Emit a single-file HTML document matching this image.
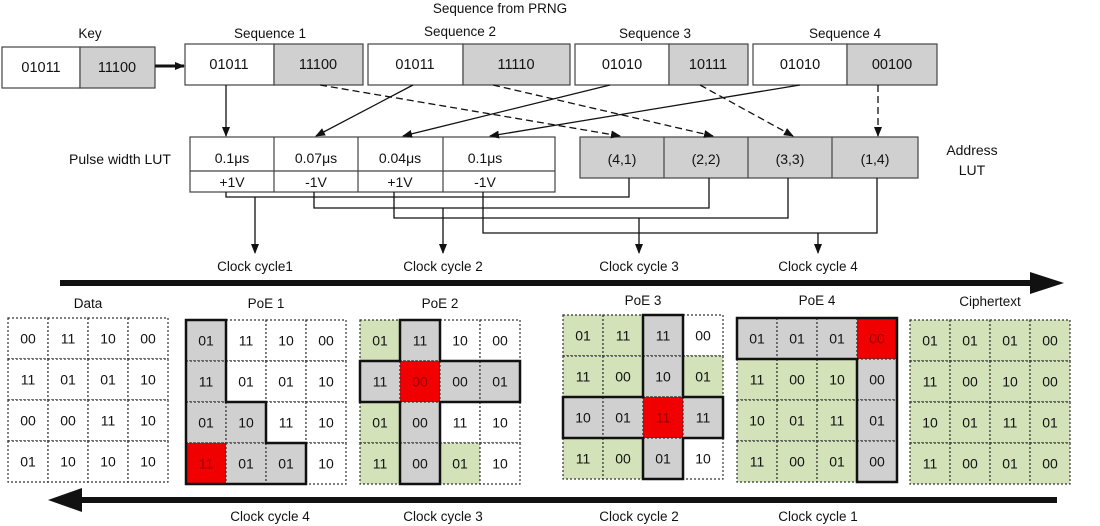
<!DOCTYPE html>
<html><head><meta charset="utf-8"><style>
html,body{margin:0;padding:0;background:#fff}
svg{display:block}
text{font-family:"Liberation Sans",sans-serif;fill:#111}
</style></head><body>
<svg id="s" width="1100" height="526" viewBox="0 0 1100 526" xmlns="http://www.w3.org/2000/svg">
<defs>
<marker id="a" markerWidth="10" markerHeight="10" refX="9" refY="5" orient="auto" markerUnits="userSpaceOnUse"><path d="M0,1 L10,5 L0,9 z" fill="#111"/></marker>
</defs>
<g font-size="13.5" text-anchor="middle">
<text x="500" y="13">Sequence from PRNG</text>
<text x="90" y="38">Key</text>
<text x="270" y="38">Sequence 1</text>
<text x="460" y="36">Sequence 2</text>
<text x="655" y="38">Sequence 3</text>
<text x="845" y="38">Sequence 4</text>
</g>
<g stroke="#444" stroke-width="1.2">
<rect x="2" y="47" width="78" height="41" fill="#fff"/><rect x="80" y="47" width="75" height="41" fill="#d0d0d0"/>
<rect x="185" y="44" width="89" height="41" fill="#fff"/><rect x="274" y="44" width="89" height="41" fill="#d0d0d0"/>
<rect x="368" y="44" width="95" height="41" fill="#fff"/><rect x="463" y="44" width="107" height="41" fill="#d0d0d0"/>
<rect x="575" y="44" width="94" height="41" fill="#fff"/><rect x="669" y="44" width="79" height="41" fill="#d0d0d0"/>
<rect x="753" y="44" width="94" height="41" fill="#fff"/><rect x="847" y="44" width="90" height="41" fill="#d0d0d0"/>
</g>
<g font-size="14.5" text-anchor="middle">
<text x="41" y="72">01011</text><text x="117" y="72">11100</text>
<text x="229" y="69">01011</text><text x="318" y="69">11100</text>
<text x="415" y="69">01011</text><text x="516" y="69">11110</text>
<text x="622" y="69">01010</text><text x="708" y="69">10111</text>
<text x="800" y="69">01010</text><text x="892" y="69">00100</text>
</g>
<line x1="155" y1="66" x2="184" y2="66" stroke="#111" stroke-width="3" marker-end="url(#a)"/>
<g stroke="#444" stroke-width="1.2" fill="#fff">
<rect x="190" y="137" width="365" height="55"/>
<line x1="190" y1="171" x2="555" y2="171"/>
<line x1="274" y1="137" x2="274" y2="192"/><line x1="358" y1="137" x2="358" y2="192"/><line x1="443" y1="137" x2="443" y2="192"/>
<rect x="580" y="137" width="338" height="41" fill="#d0d0d0"/>
<line x1="664" y1="137" x2="664" y2="178"/><line x1="748" y1="137" x2="748" y2="178"/><line x1="832" y1="137" x2="832" y2="178"/>
</g>
<g font-size="14" text-anchor="middle">
<text x="120" y="164">Pulse width LUT</text>
<text x="232" y="163">0.1μs</text><text x="316" y="163">0.07μs</text><text x="400" y="163">0.04μs</text><text x="485" y="163">0.1μs</text>
<text x="232" y="187">+1V</text><text x="316" y="187">-1V</text><text x="400" y="187">+1V</text><text x="485" y="187">-1V</text>
<text x="622" y="164">(4,1)</text><text x="706" y="164">(2,2)</text><text x="790" y="164">(3,3)</text><text x="875" y="164">(1,4)</text>
<text x="972" y="155">Address</text>
<text x="972" y="175">LUT</text>
</g>
<g stroke="#111" stroke-width="1.3" fill="none">
<line x1="226" y1="85" x2="226" y2="136" marker-end="url(#a)"/>
<line x1="413" y1="85" x2="316" y2="136" marker-end="url(#a)"/>
<line x1="610" y1="85" x2="403" y2="136" marker-end="url(#a)"/>
<line x1="800" y1="85" x2="490" y2="136" marker-end="url(#a)"/>
<g stroke-dasharray="7,4">
<line x1="320" y1="85" x2="620" y2="136" marker-end="url(#a)"/>
<line x1="493" y1="85" x2="713" y2="136" marker-end="url(#a)"/>
<line x1="700" y1="85" x2="793" y2="136" marker-end="url(#a)"/>
<line x1="878" y1="85" x2="878" y2="136" marker-end="url(#a)"/>
</g>
<polyline points="226,192 226,197 629,197 629,178"/>
<polyline points="314,192 314,208 709,208 709,178"/>
<polyline points="394,192 394,218 788,218 788,178"/>
<polyline points="483,192 483,233 877,233 877,178"/>
<line x1="255" y1="197" x2="255" y2="253" marker-end="url(#a)"/>
<line x1="443" y1="208" x2="443" y2="253" marker-end="url(#a)"/>
<line x1="639" y1="218" x2="639" y2="253" marker-end="url(#a)"/>
<line x1="818" y1="233" x2="818" y2="253" marker-end="url(#a)"/>
</g>
<g font-size="13.5" text-anchor="middle">
<text x="255" y="271">Clock cycle1</text><text x="443" y="271">Clock cycle 2</text>
<text x="639" y="271">Clock cycle 3</text><text x="818" y="271">Clock cycle 4</text>
</g>
<rect x="60" y="280" width="975" height="6" fill="#111"/>
<path d="M1030,272 L1064,283 L1030,294 z" fill="#111"/>
<rect x="75" y="497" width="982" height="6" fill="#111"/>
<path d="M82,488 L48,500 L82,512 z" fill="#111"/>
<g font-size="13.5" text-anchor="middle">
<text x="270" y="521">Clock cycle 4</text><text x="443" y="521">Clock cycle 3</text>
<text x="639" y="521">Clock cycle 2</text><text x="818" y="521">Clock cycle 1</text>
<text x="88" y="308">Data</text><text x="266" y="308">PoE 1</text><text x="440" y="308">PoE 2</text>
<text x="643" y="305">PoE 3</text><text x="817" y="305">PoE 4</text><text x="990" y="306">Ciphertext</text>
</g>
<g id="grids"></g>
</svg>
<script>
var G=document.getElementById('grids'),NS='http://www.w3.org/2000/svg';
function el(t,a,p){var e=document.createElementNS(NS,t);for(var k in a)e.setAttribute(k,a[k]);(p||G).appendChild(e);return e;}
var W=40,H=41;
var C={w:'#fff',g:'#d0d0d0',n:'#d3e2b8',r:'#f00000'};
function grid(x,y,vals,cols,outline){
 for(var r=0;r<4;r++)for(var c=0;c<4;c++){
  el('rect',{x:x+c*W,y:y+r*H,width:W,height:H,fill:C[cols[r][c]],stroke:'#333','stroke-width':1.2,'stroke-dasharray':'2,2'});
  var t=el('text',{x:x+c*W+W/2,y:y+r*H+H/2+5,'font-size':14,'text-anchor':'middle'});t.textContent=vals[r][c];
  if(cols[r][c]=='r')t.setAttribute('style','fill:#900');
 }
 if(outline)outline.forEach(function(p){el('polygon',{points:p.map(function(q){return (x+q[0]*W)+','+(y+q[1]*H)}).join(' '),fill:'none',stroke:'#111','stroke-width':2.5});});
}
grid(8,318,[['00','11','10','00'],['11','01','01','10'],['00','00','11','10'],['01','10','10','10']],['wwww','wwww','wwww','wwww']);
grid(186,320,[['01','11','10','00'],['11','01','01','10'],['01','10','11','10'],['11','01','01','10']],['gwww','gwww','ggww','rggw'],[[[0,0],[1,0],[1,2],[2,2],[2,3],[3,3],[3,4],[0,4]]]);
grid(360,320,[['01','11','10','00'],['11','00','00','01'],['01','00','11','10'],['11','00','01','10']],['ngww','grgg','ngww','ngnw'],[[[1,0],[2,0],[2,1],[4,1],[4,2],[2,2],[2,4],[1,4],[1,2],[0,2],[0,1],[1,1]]]);
grid(563,315,[['01','11','11','00'],['11','00','10','01'],['10','01','11','11'],['11','00','01','10']],['nngw','nngn','ggrg','nngw'],[[[2,0],[3,0],[3,2],[4,2],[4,3],[3,3],[3,4],[2,4],[2,3],[0,3],[0,2],[2,2]]]);
grid(737,318,[['01','01','01','00'],['11','00','10','00'],['10','01','11','01'],['11','00','01','00']],['gggr','nnng','nnng','nnng'],[[[0,0],[4,0],[4,4],[3,4],[3,1],[0,1]]]);
grid(910,320,[['01','01','01','00'],['11','00','10','00'],['10','01','11','01'],['11','00','01','00']],['nnnn','nnnn','nnnn','nnnn']);
</script>
</body></html>
